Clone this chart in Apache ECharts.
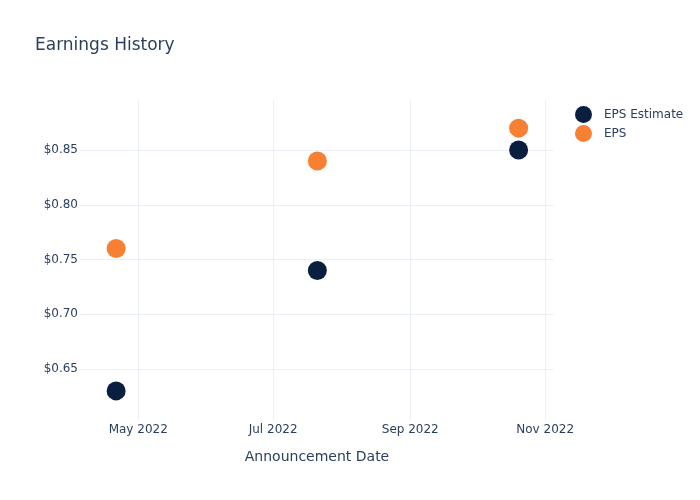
<!DOCTYPE html>
<html>
<head>
<meta charset="utf-8">
<script src="https://cdn.jsdelivr.net/npm/echarts@6/dist/echarts.min.js"></script>
<style>html,body{margin:0;padding:0;background:#fff}#chart{width:700px;height:500px}</style>
</head>
<body>
<div id="chart"></div>
<script>
const dates = ['2022-04-21', '2022-07-21', '2022-10-20'];
const epsEstimate = [0.63, 0.74, 0.85];
const eps = [0.76, 0.84, 0.87];
const xTickDates = ['2022-05-01', '2022-07-01', '2022-09-01', '2022-11-01'];
const xTickLabels = ['May 2022', 'Jul 2022', 'Sep 2022', 'Nov 2022'];
const yTicks = [0.65, 0.70, 0.75, 0.80, 0.85];

const FONT = 'DejaVu Sans';
const TXT = '#2a3f5f';
const GRID = '#ebf0f8';
const ts = d => new Date(d + 'T00:00:00Z').getTime();
const xTickTs = xTickDates.map(ts);
const labelMap = {};
xTickTs.forEach((t, i) => { labelMap[t] = xTickLabels[i]; });

const chart = echarts.init(document.getElementById('chart'));
chart.setOption({
  backgroundColor: '#fff',
  animation: false,
  textStyle: { fontFamily: FONT },
  title: {
    text: 'Earnings History',
    left: 35, top: 37, padding: 0,
    textStyle: { fontFamily: FONT, fontSize: 17, fontWeight: 'normal', color: TXT }
  },
  legend: {
    orient: 'vertical',
    left: 570, top: 101,
    itemWidth: 17, itemHeight: 17, itemGap: 2,
    icon: 'circle',
    textStyle: { fontFamily: FONT, fontSize: 12, color: TXT, padding: [0, 0, 0, 7] },
    data: ['EPS Estimate', 'EPS']
  },
  grid: { left: 80, right: 146, top: 100, bottom: 80, containLabel: false },
  xAxis: {
    type: 'value',
    min: ts('2022-04-04') + 16 * 3600e3,
    max: ts('2022-11-05'),
    name: 'Announcement Date',
    nameLocation: 'middle',
    nameGap: 30,
    nameTextStyle: { fontFamily: FONT, fontSize: 14, color: TXT },
    axisLine: { show: false },
    axisTick: { show: false, customValues: xTickTs },
    axisLabel: {
      customValues: xTickTs,
      formatter: v => labelMap[v] || '',
      fontFamily: FONT, fontSize: 12, color: TXT, margin: 4
    },
    splitLine: { show: true, lineStyle: { color: GRID, width: 1 } }
  },
  yAxis: {
    type: 'value',
    min: 0.6034,
    max: 0.8957,
    axisLine: { show: false },
    axisTick: { show: false, customValues: yTicks },
    axisLabel: {
      customValues: yTicks,
      formatter: v => '$' + v.toFixed(2),
      fontFamily: FONT, fontSize: 12, color: TXT, margin: 2
    },
    splitLine: { show: true, lineStyle: { color: GRID, width: 1 } }
  },
  series: [
    {
      name: 'EPS Estimate', type: 'scatter', symbolSize: 19,
      itemStyle: { color: '#0a1f40', opacity: 1 },
      data: dates.map((d, i) => [ts(d), epsEstimate[i]])
    },
    {
      name: 'EPS', type: 'scatter', symbolSize: 19,
      itemStyle: { color: '#f78033', opacity: 1 },
      data: dates.map((d, i) => [ts(d), eps[i]])
    }
  ]
});
</script>
</body>
</html>
